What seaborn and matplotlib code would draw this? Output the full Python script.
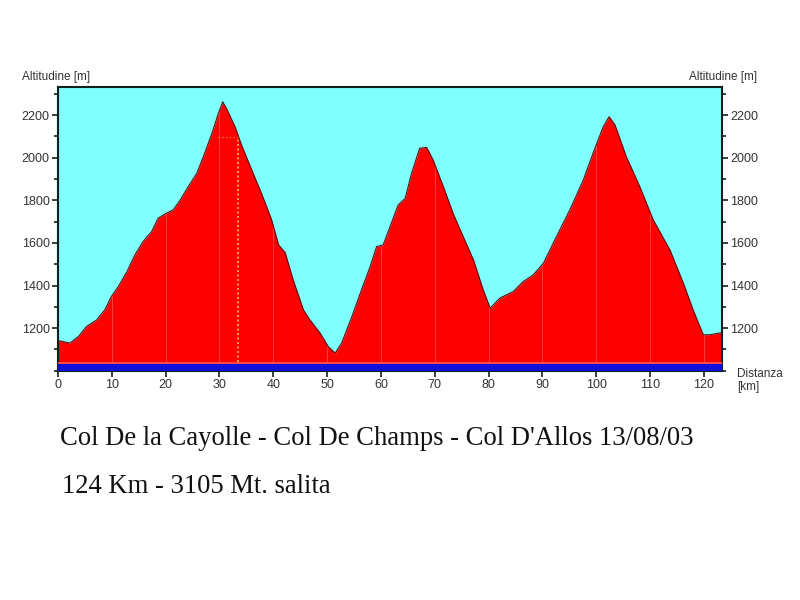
import numpy as np
import pandas as pd
import matplotlib
matplotlib.use("Agg")
import matplotlib.pyplot as plt
import seaborn as sns
from matplotlib.ticker import MultipleLocator

# ---- data ----
distance_km = [0.0, 2.2, 3.8, 5.3, 7.2, 8.7, 9.9, 11.2, 12.8, 14.3, 15.8, 17.4, 18.6,
               19.9, 21.4, 22.7, 24.2, 25.8, 27.0, 28.6, 29.8, 30.6, 31.3, 32.9, 34.1,
               36.0, 37.8, 39.7, 41.0, 42.2, 43.7, 45.6, 46.8, 48.7, 50.2, 51.5, 52.7,
               54.6, 56.4, 58.0, 59.2, 60.4, 61.7, 63.2, 64.5, 65.7, 67.2, 68.5, 69.7,
               71.6, 73.4, 75.3, 77.2, 79.0, 80.3, 82.1, 84.6, 86.4, 88.3, 90.2, 92.6,
               95.1, 97.6, 99.4, 101.3, 102.4, 103.5, 105.6, 108.1, 110.6, 113.7, 116.2,
               118.0, 119.9, 121.1, 123.3]
altitude_m = [1142, 1130, 1161, 1208, 1239, 1286, 1348, 1395, 1465, 1544, 1606, 1653, 1716,
              1736, 1755, 1801, 1864, 1927, 2004, 2114, 2208, 2262, 2231, 2145, 2059,
              1942, 1833, 1708, 1590, 1555, 1426, 1286, 1239, 1177, 1114, 1083, 1130,
              1254, 1380, 1489, 1583, 1590, 1676, 1778, 1809, 1927, 2044, 2048, 1989,
              1864, 1739, 1629, 1520, 1380, 1294, 1341, 1372, 1418, 1450, 1505, 1629,
              1755, 1895, 2020, 2145, 2192, 2153, 2004, 1864, 1708, 1567, 1411,
              1286, 1169, 1169, 1179]
x_ticks = list(range(0, 121, 10))
y_ticks = [1200, 1400, 1600, 1800, 2000, 2200]
marker_km = 33.4
title_line1 = "Col De la Cayolle - Col De Champs - Col D'Allos 13/08/03"
title_line2 = "124 Km - 3105 Mt. salita"

df = pd.DataFrame({"km": distance_km, "alt": altitude_m})

sns.set_style("ticks")
plt.rcParams["font.family"] = ["Liberation Sans", "DejaVu Sans"]

fig = plt.figure(figsize=(8, 6), dpi=100)
fig.patch.set_facecolor("white")
ax = fig.add_axes([0.0725, 0.382, 0.8295, 0.4725])
ax.set_facecolor("#80FFFF")

xmin, xmax = 0, 123.3
ymin, ymax = 1000, 2330

area = ax.fill_between(df["km"], ymin, df["alt"], color="#FF0000", zorder=2, linewidth=0)
sns.lineplot(data=df, x="km", y="alt", ax=ax, color="#5a1010", linewidth=0.8, zorder=3)

# faint vertical grid lines, visible only inside the profile
for t in x_ticks[1:]:
    ln = ax.axvline(t, color="#ff7070", linewidth=0.7, alpha=0.55, zorder=2.5)
    ln.set_clip_path(area.get_paths()[0], ax.transData)

# bottom bands
ax.axhspan(1031, 1040, color="#ff4848", zorder=3.5, linewidth=0)
ax.axhspan(ymin, 1031, color="#1010d8", zorder=4, linewidth=0)

# dotted marker line
ax.plot([marker_km, marker_km], [1040, 2098], color="#ffc040", linestyle=(0, (1.2, 1.5)),
        linewidth=1.2, zorder=3.2)
ax.plot([29.8, marker_km], [2095, 2095], color="#ffb040", linestyle=(0, (1.2, 1.5)),
        linewidth=1.0, zorder=3.2, alpha=0.6)

ax.set_xlim(xmin, xmax)
ax.set_ylim(ymin, ymax)
ax.set_xticks(x_ticks)
ax.set_yticks(y_ticks)
ax.yaxis.set_minor_locator(MultipleLocator(100))
ax.set_xlabel("")
ax.set_ylabel("")

for s in ax.spines.values():
    s.set_color("#102020")
    s.set_linewidth(1.5)

ax.tick_params(axis="both", which="major", direction="out", length=4, width=1.2,
               color="#102020", labelsize=9, labelcolor="#333333",
               left=True, right=True, labelleft=True, labelright=True)
ax.tick_params(axis="y", which="minor", direction="out", length=3, width=1.2,
               color="#102020", left=True, right=True)
ax.tick_params(axis="x", pad=2)
ax.tick_params(axis="y", pad=2)

fig.text(0.027, 0.862, "Altitudine [m]", fontsize=8.5, color="#333333", ha="left", va="bottom")
fig.text(0.946, 0.862, "Altitudine [m]", fontsize=8.5, color="#333333", ha="right", va="bottom")
fig.text(0.921, 0.366, "Distanza\n[km]", fontsize=8.5, color="#333333", ha="left", va="center",
         linespacing=1.05)

fig.text(0.075, 0.258, title_line1, fontsize=19.2, family=["Liberation Serif", "DejaVu Serif"],
         color="#111111", ha="left", va="baseline")
fig.text(0.078, 0.179, title_line2, fontsize=19.2, family=["Liberation Serif", "DejaVu Serif"],
         color="#111111", ha="left", va="baseline")

fig.savefig("out.png", dpi=100, facecolor="white")
